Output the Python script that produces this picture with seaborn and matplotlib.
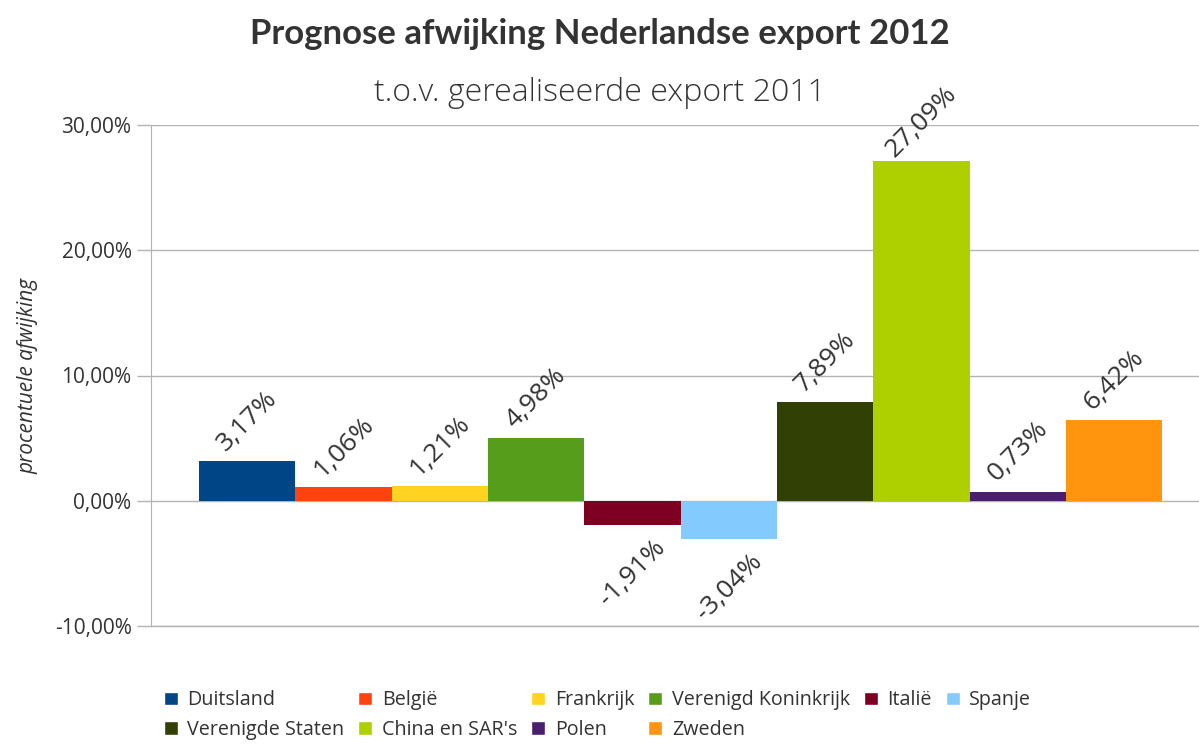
import matplotlib
matplotlib.use("Agg")
import matplotlib.pyplot as plt
import matplotlib.ticker as mticker
from matplotlib.patches import Patch
import seaborn as sns
import pandas as pd

landen = ['Duitsland', 'België', 'Frankrijk', 'Verenigd Koninkrijk', 'Italië', 'Spanje',
          'Verenigde Staten', "China en SAR's", 'Polen', 'Zweden']
afwijking = [3.17, 1.06, 1.21, 4.98, -1.91, -3.04, 7.89, 27.09, 0.73, 6.42]
kleuren = ['#004586', '#ff420e', '#ffd320', '#579d1c', '#7e0021', '#83caff',
           '#314004', '#aecf00', '#4b1f6f', '#ff950e']
yticks = [-10, 0, 10, 20, 30]

df = pd.DataFrame({'land': landen, 'afwijking': afwijking})

sns.set_style("white")
plt.rcParams['font.family'] = ['Open Sans', 'DejaVu Sans']

fig = plt.figure(figsize=(11.99, 7.46), dpi=100)
ax = fig.add_axes([151 / 1199, 1 - 626 / 746, 1 - 151 / 1199, (626 - 125) / 746])

sns.barplot(data=df, x='land', y='afwijking', hue='land', palette=kleuren,
            width=1.0, dodge=False, legend=False, ax=ax, saturation=1, linewidth=0)

ax.set_xlim(-1, 9.88)
ax.set_ylim(-10, 30)
ax.set_yticks(yticks)
ax.yaxis.set_major_formatter(mticker.FuncFormatter(lambda v, p: f"{v:.2f}%".replace('.', ',')))
ax.set_xticks([])
ax.set_xlabel('')
ax.set_ylabel('procentuele afwijking', fontsize=15, style='italic', color='#333333', labelpad=12)
ax.tick_params(axis='y', labelsize=15, labelcolor='#333333', length=10, color='#b3b3b3',
               width=1, left=True, pad=4)
ax.grid(axis='y', color='#b3b3b3', linewidth=1)
ax.axhline(-10, color='#b3b3b3', linewidth=1, clip_on=False, zorder=0)
ax.set_axisbelow(True)
for s in ['top', 'right', 'bottom']:
    ax.spines[s].set_visible(False)
ax.spines['left'].set_color('#b3b3b3')

for i, v in enumerate(afwijking):
    off = 40 if v >= 0 else -48
    ax.annotate(f"{v:.2f}%".replace('.', ','), (i, v), xytext=(0, off * 0.72),
                textcoords='offset points', ha='center', va='center', rotation=45,
                fontsize=19, color='#333333')

fig.text(0.5, 1 - 34 / 746, 'Prognose afwijking Nederlandse export 2012', ha='center', va='center',
         fontsize=25, fontweight='bold', color='#333333', family=['Lato', 'DejaVu Sans'])
fig.text(0.5, 1 - 93 / 746, 't.o.v. gerealiseerde export 2011', ha='center', va='center',
         fontsize=23, color='#333333', fontweight='light')

volgorde = [0, 6, 1, 7, 2, 8, 3, 9, 4, 5]
handles = [Patch(facecolor=kleuren[k], label=landen[k]) for k in volgorde]
fig.legend(handles=handles, ncol=6, loc='lower left', bbox_to_anchor=(146 / 1199, -0.016),
           frameon=False, fontsize=14.2, handlelength=0.7, handleheight=0.7,
           handletextpad=0.5, columnspacing=0.7, labelspacing=0.5, labelcolor='#333333')

fig.savefig('out.png', dpi=100)
